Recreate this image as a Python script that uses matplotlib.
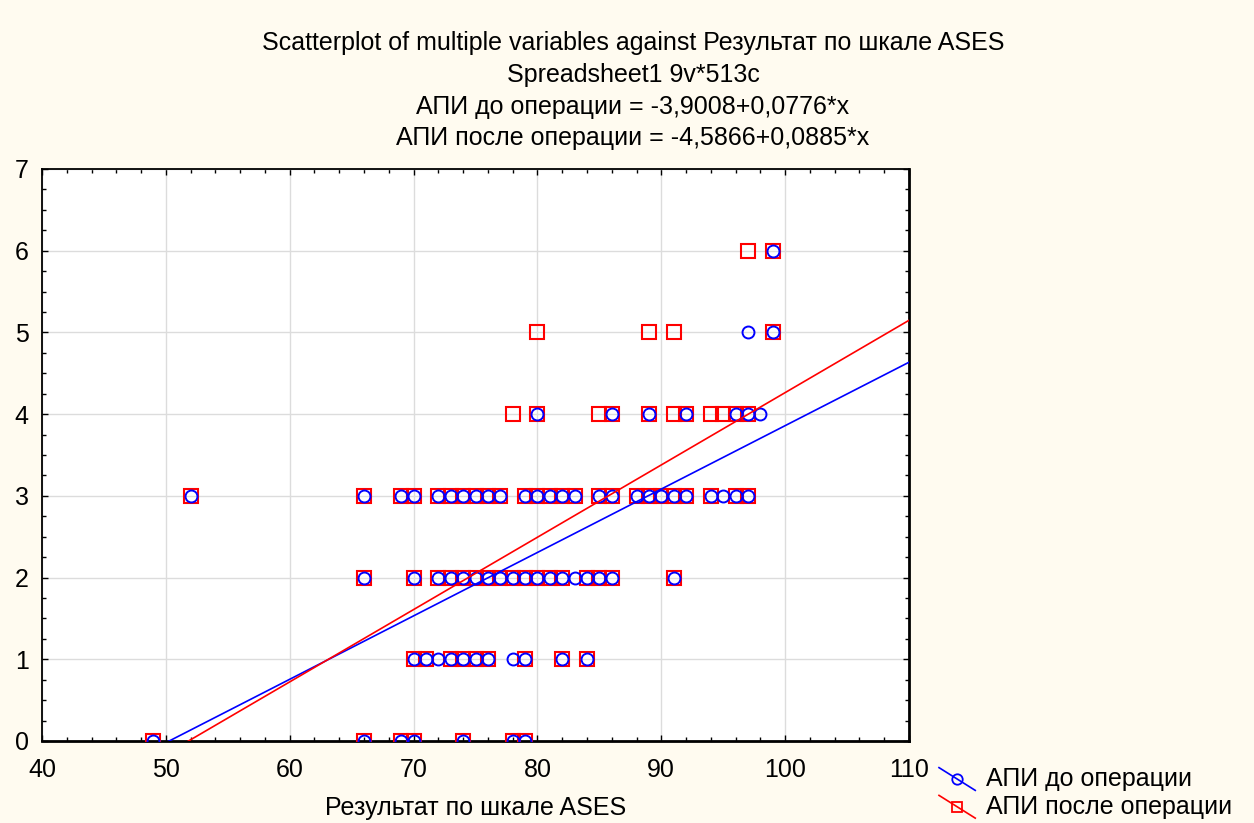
import matplotlib
matplotlib.use("Agg")
import matplotlib.pyplot as plt
import numpy as np
from matplotlib.legend_handler import HandlerBase
from matplotlib.lines import Line2D
from matplotlib.ticker import MultipleLocator

plt.rcParams['font.family'] = ['Liberation Sans', 'DejaVu Sans']

# ---- data (unique visible points) ----
# АПИ до операции (circles)
before_x = [49, 66, 69, 70, 74, 78, 79,
            70, 71, 72, 73, 74, 75, 76, 78, 79, 82, 84,
            66, 70, 72, 73, 74, 75, 76, 77, 78, 79, 80, 81, 82, 83, 84, 85, 86, 91,
            52, 66, 69, 70, 72, 73, 74, 75, 76, 77, 79, 80, 81, 82, 83, 85, 86,
            88, 89, 90, 91, 92, 94, 95, 96, 97,
            80, 86, 89, 92, 96, 97, 98,
            97, 99,
            99]
before_y = [0, 0, 0, 0, 0, 0, 0,
            1, 1, 1, 1, 1, 1, 1, 1, 1, 1, 1,
            2, 2, 2, 2, 2, 2, 2, 2, 2, 2, 2, 2, 2, 2, 2, 2, 2, 2,
            3, 3, 3, 3, 3, 3, 3, 3, 3, 3, 3, 3, 3, 3, 3, 3, 3,
            3, 3, 3, 3, 3, 3, 3, 3, 3,
            4, 4, 4, 4, 4, 4, 4,
            5, 5,
            6]
# АПИ после операции (squares)
after_x = [49, 66, 69, 70, 74, 78, 79,
           70, 71, 73, 74, 75, 76, 79, 82, 84,
           66, 70, 72, 73, 74, 75, 76, 77, 78, 79, 80, 81, 82, 84, 85, 86, 91,
           52, 66, 69, 70, 72, 73, 74, 75, 76, 77, 79, 80, 81, 82, 83, 85, 86,
           88, 89, 90, 91, 92, 94, 96, 97,
           78, 80, 85, 86, 89, 91, 92, 94, 95, 96, 97,
           80, 89, 91, 99,
           97, 99]
after_y = [0, 0, 0, 0, 0, 0, 0,
           1, 1, 1, 1, 1, 1, 1, 1, 1,
           2, 2, 2, 2, 2, 2, 2, 2, 2, 2, 2, 2, 2, 2, 2, 2, 2,
           3, 3, 3, 3, 3, 3, 3, 3, 3, 3, 3, 3, 3, 3, 3, 3, 3,
           3, 3, 3, 3, 3, 3, 3, 3,
           4, 4, 4, 4, 4, 4, 4, 4, 4, 4, 4,
           5, 5, 5, 5,
           6, 6]

# regression coefficients (from the title)
before_fit = (-3.9008, 0.0776)
after_fit = (-4.5866, 0.0885)

labels = ["АПИ до операции", "АПИ после операции"]
title_lines = ["Scatterplot of multiple variables against Результат по шкале ASES",
               "Spreadsheet1 9v*513c",
               "АПИ до операции = -3,9008+0,0776*x",
               "АПИ после операции = -4,5866+0,0885*x"]
xlabel = "Результат по шкале ASES"

BG = '#FFFBF0'
W, H = 1254, 823
fig = plt.figure(figsize=(W / 100, H / 100), dpi=100, facecolor=BG)
ax = fig.add_axes([42 / W, 1 - 741 / H, (909 - 42) / W, (741 - 169) / H])
ax.set_facecolor('white')

FS = 18

ax.plot(after_x, after_y, ls='none', marker='s', ms=9.5, mfc='none',
        mec='#FF0000', mew=1.5, zorder=3)
ax.plot(before_x, before_y, ls='none', marker='o', ms=8.6, mfc='none',
        mec='#0000FF', mew=1.4, zorder=4)

xx = np.array([40.0, 110.0])
ax.plot(xx, before_fit[0] + before_fit[1] * xx, color='#0000FF', lw=1.2, zorder=5)
ax.plot(xx, after_fit[0] + after_fit[1] * xx, color='#FF0000', lw=1.2, zorder=5)

ax.set_xlim(40, 110)
ax.set_ylim(0, 7)
ax.xaxis.set_major_locator(MultipleLocator(10))
ax.xaxis.set_minor_locator(MultipleLocator(2))
ax.yaxis.set_major_locator(MultipleLocator(1))
ax.yaxis.set_minor_locator(MultipleLocator(0.25))
ax.tick_params(which='both', direction='in', top=True, right=True,
               color='black', width=1.0)
ax.tick_params(which='major', length=4)
ax.tick_params(which='minor', length=3)
ax.tick_params(axis='x', which='major', labelsize=FS, pad=12)
ax.tick_params(axis='y', which='major', labelsize=FS, pad=9.5)
ax.grid(True, which='major', color='#DCDCDC', lw=1.0, zorder=0)
ax.set_axisbelow(True)
for s in ax.spines.values():
    s.set_linewidth(1.3)
    s.set_color('black')
ax.spines['right'].set_linewidth(2)
ax.spines['bottom'].set_linewidth(2)

fig.text(475.5 / W, 1 - 808 / H, xlabel, ha='center', va='center', fontsize=FS)

for txt, yc in zip(title_lines, [43, 75, 107, 138]):
    fig.text(633 / W, 1 - yc / H, txt, ha='center', va='center', fontsize=FS)


class DiagHandler(HandlerBase):
    def create_artists(self, legend, orig_handle, xdescent, ydescent,
                       width, height, fontsize, trans):
        x0 = -xdescent
        y0 = -ydescent
        line = Line2D([x0, x0 + width], [y0 + height * 1.05, y0 - height * 0.25],
                      color=orig_handle.get_color(), lw=1.2, transform=trans)
        mk = Line2D([x0 + width / 2], [y0 + height * 0.4], ls='none',
                    marker=orig_handle.get_marker(), ms=7.5, mfc='none',
                    mec=orig_handle.get_color(), mew=1.3, transform=trans)
        return [line, mk]


h1 = Line2D([], [], color='#0000FF', marker='o')
h2 = Line2D([], [], color='#FF0000', marker='s')
fig.legend([h1, h2], labels, loc='upper left',
           bbox_to_anchor=(939 / W, 1 - 767 / H), frameon=False,
           fontsize=FS, handlelength=1.45, handletextpad=0.45,
           labelspacing=0.15, borderpad=0, borderaxespad=0,
           handler_map={Line2D: DiagHandler()})

fig.savefig('out.png', dpi=100, facecolor=BG)
